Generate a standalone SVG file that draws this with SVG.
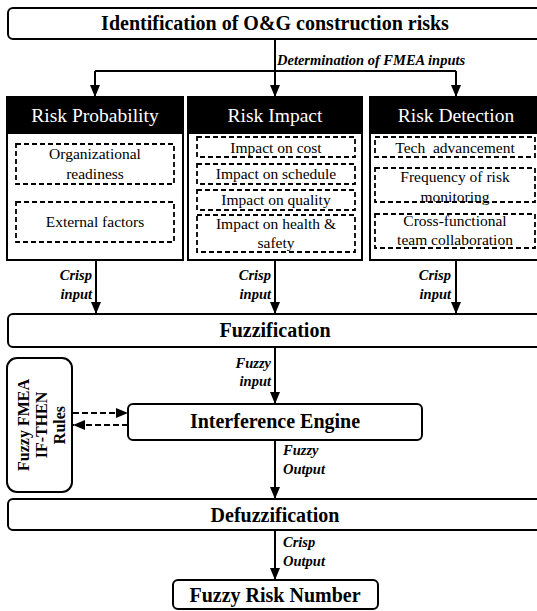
<svg xmlns="http://www.w3.org/2000/svg" width="537" height="611" viewBox="0 0 537 611" font-family="'Liberation Serif', 'DejaVu Serif', serif">
<style>
text{font-family:'Liberation Serif','DejaVu Serif',serif}
.box{fill:#fff;stroke:#000;stroke-width:2}
.hdr{fill:#000;stroke:#000;stroke-width:2}
.dash{fill:none;stroke:#000;stroke-width:1.8;stroke-dasharray:5 3}
.t{fill:#000;text-anchor:middle}
.b{font-weight:bold;font-size:20px}
.h{fill:#fff;font-size:19.5px}
.s{font-size:15.5px}
.r{font-weight:bold;font-size:16px}
.lbl{font-style:italic;font-weight:bold;font-size:14.5px;fill:#000}
.end{text-anchor:end}
.line{stroke:#000;stroke-width:2;fill:none}
.dline{stroke:#000;stroke-width:2;fill:none;stroke-dasharray:6 3}
</style>
<defs>
<marker id="ah" viewBox="0 0 12 10" refX="12" refY="5" markerWidth="12" markerHeight="10" markerUnits="userSpaceOnUse" orient="auto">
<path d="M0,0 L12,5 L0,10 z" fill="#000"/>
</marker>
</defs>

<g id="connectors">
<path class="line" d="M275,39 V97" marker-end="url(#ah)"/>
<path class="line" d="M95,71 H456"/>
<path class="line" d="M95,71 V97" marker-end="url(#ah)"/>
<path class="line" d="M456,71 V97" marker-end="url(#ah)"/>
<text class="lbl" x="277" y="65">Determination of FMEA inputs</text>
<path class="line" d="M96,260 V314" marker-end="url(#ah)"/>
<path class="line" d="M275,260 V314" marker-end="url(#ah)"/>
<path class="line" d="M456,260 V314" marker-end="url(#ah)"/>
<text class="lbl end" x="92" y="280">Crisp</text>
<text class="lbl end" x="92" y="299">input</text>
<text class="lbl end" x="271" y="280">Crisp</text>
<text class="lbl end" x="271" y="299">input</text>
<text class="lbl end" x="451" y="280">Crisp</text>
<text class="lbl end" x="451" y="299">input</text>
<path class="line" d="M275,347 V404" marker-end="url(#ah)"/>
<text class="lbl end" x="271" y="368">Fuzzy</text>
<text class="lbl end" x="271" y="386">input</text>
<path class="dline" d="M73,413 H128" marker-end="url(#ah)"/>
<path class="dline" d="M128,425 H73" marker-end="url(#ah)"/>
<path class="line" d="M275,440 V499" marker-end="url(#ah)"/>
<text class="lbl" x="283" y="455">Fuzzy</text>
<text class="lbl" x="283" y="474">Output</text>
<path class="line" d="M275,530 V580" marker-end="url(#ah)"/>
<text class="lbl" x="283" y="547">Crisp</text>
<text class="lbl" x="283" y="566">Output</text>
</g>

<g id="identification">
<rect class="box" x="8" y="8" width="534" height="31" rx="5"/>
<text class="t b" x="275" y="30">Identification of O&amp;G construction risks</text>
</g>

<g id="risk-probability">
<rect class="box" x="7" y="97" width="176" height="163"/>
<rect class="hdr" x="7" y="97" width="176" height="36"/>
<text class="t h" x="95" y="122">Risk Probability</text>
<rect class="dash" x="16" y="144" width="158" height="40"/>
<text class="t s" x="95" y="159">Organizational</text>
<text class="t s" x="95" y="179">readiness</text>
<rect class="dash" x="16" y="202" width="158" height="40"/>
<text class="t s" x="95" y="227">External factors</text>
</g>

<g id="risk-impact">
<rect class="box" x="188" y="97" width="174" height="163"/>
<rect class="hdr" x="188" y="97" width="174" height="36"/>
<text class="t h" x="275" y="122">Risk Impact</text>
<rect class="dash" x="197" y="137" width="158" height="20"/>
<text class="t s" x="276" y="153">Impact on cost</text>
<rect class="dash" x="197" y="164" width="158" height="20"/>
<text class="t s" x="276" y="179">Impact on schedule</text>
<rect class="dash" x="197" y="190" width="158" height="20"/>
<text class="t s" x="276" y="205">Impact on quality</text>
<rect class="dash" x="197" y="215" width="158" height="37"/>
<text class="t s" x="276" y="229">Impact on health &amp;</text>
<text class="t s" x="276" y="248">safety</text>
</g>

<g id="risk-detection">
<rect class="box" x="370" y="97" width="172" height="163"/>
<rect class="hdr" x="370" y="97" width="172" height="36"/>
<text class="t h" x="456" y="122">Risk Detection</text>
<rect class="dash" x="375" y="137" width="160" height="20"/>
<text class="t s" x="455" y="153" xml:space="preserve">Tech  advancement</text>
<rect class="dash" x="375" y="168" width="160" height="34"/>
<text class="t s" x="455" y="182">Frequency of risk</text>
<text class="t s" x="455" y="202">monitoring</text>
<rect class="dash" x="375" y="214" width="160" height="34"/>
<text class="t s" x="455" y="226">Cross-functional</text>
<text class="t s" x="455" y="245">team collaboration</text>
</g>

<g id="fuzzification">
<rect class="box" x="8" y="314" width="534" height="33" rx="5"/>
<text class="t b" x="275" y="337">Fuzzification</text>
</g>

<g id="rules">
<rect class="box" x="7" y="358" width="65" height="134" rx="10"/>
<text class="t r" x="29" y="425" transform="rotate(-90 29 425)">Fuzzy FMEA</text>
<text class="t r" x="47" y="425" transform="rotate(-90 47 425)">IF-THEN</text>
<text class="t r" x="65" y="425" transform="rotate(-90 65 425)">Rules</text>
</g>

<g id="interference-engine">
<rect class="box" x="128" y="404" width="294" height="36" rx="5"/>
<text class="t b" x="275" y="428">Interference Engine</text>
</g>

<g id="defuzzification">
<rect class="box" x="8" y="499" width="534" height="31" rx="5"/>
<text class="t b" x="275" y="522">Defuzzification</text>
</g>

<g id="fuzzy-risk-number">
<rect class="box" x="173" y="580" width="205" height="29" rx="5"/>
<text class="t b" x="275" y="602">Fuzzy Risk Number</text>
</g>
</svg>
